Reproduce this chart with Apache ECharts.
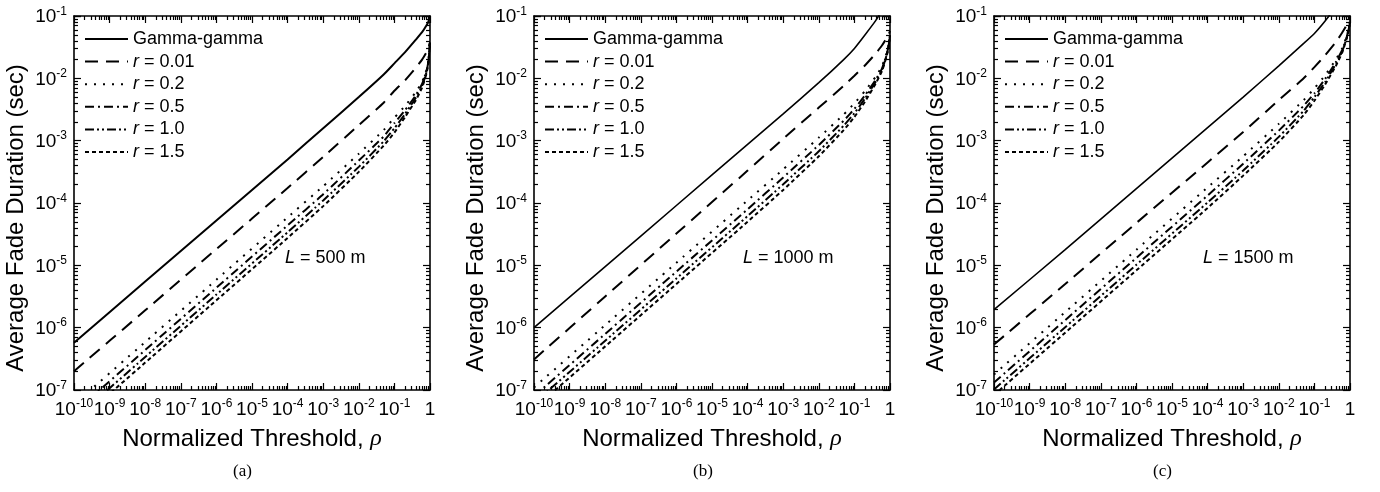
<!DOCTYPE html>
<html><head><meta charset="utf-8">
<script src="https://cdn.jsdelivr.net/npm/echarts@6/dist/echarts.min.js"></script>
<style>html,body{margin:0;padding:0;background:#fff}#c{width:1380px;height:492px}</style>
</head><body><div id="c"></div>
<script>
// ---- data ----
const rho = [1e-10, 1e-8, 1e-6, 1e-4, 1e-3, 1e-2, 0.05, 0.1, 0.2, 0.4, 0.6, 0.8, 0.9, 1];
const seriesNames = ['Gamma-gamma', 'r = 0.01', 'r = 0.2', 'r = 0.5', 'r = 1.0', 'r = 1.5'];
const panelCaptions = ['(a)', '(b)', '(c)'];
const linkLengths = ['500', '1000', '1500'];
const xTickExponents = [-10, -9, -8, -7, -6, -5, -4, -3, -2, -1, 0];
const yTickExponents = [-7, -6, -5, -4, -3, -2, -1];

// Panel (a) L = 500 m
const a_gg   = [5.75e-7, 5.5e-6, 5.25e-5, 5.0e-4, 1.58e-3, 5.0e-3, 1.15e-2, 1.74e-2, 2.63e-2, 4.17e-2, 5.5e-2, 7.08e-2, 8.13e-2, 0.1];
const a_r001 = [2.0e-7, 1.9e-6, 1.82e-5, 1.74e-4, 5.5e-4, 1.78e-3, 4.07e-3, 6.31e-3, 9.33e-3, 1.48e-2, 2.0e-2, 2.63e-2, 3.09e-2, 3.8e-2];
const a_r02  = [5.89e-8, 5.89e-7, 5.89e-6, 5.89e-5, 1.86e-4, 6.17e-4, 1.48e-3, 2.34e-3, 3.63e-3, 6.03e-3, 8.71e-3, 1.38e-2, 1.91e-2, 3.8e-2];
const a_r05  = [4.37e-8, 4.37e-7, 4.37e-6, 4.37e-5, 1.38e-4, 4.79e-4, 1.17e-3, 1.91e-3, 3.09e-3, 5.37e-3, 8.13e-3, 1.32e-2, 1.86e-2, 3.8e-2];
const a_r10  = [3.39e-8, 3.39e-7, 3.39e-6, 3.39e-5, 1.1e-4, 3.8e-4, 9.77e-4, 1.58e-3, 2.69e-3, 4.9e-3, 7.59e-3, 1.26e-2, 1.82e-2, 3.72e-2];
const a_r15  = [2.75e-8, 2.75e-7, 2.75e-6, 2.75e-5, 8.91e-5, 3.16e-4, 8.32e-4, 1.35e-3, 2.4e-3, 4.47e-3, 7.08e-3, 1.2e-2, 1.78e-2, 3.63e-2];
// Panel (b) L = 1000 m
const b_gg   = [1.0e-6, 9.55e-6, 9.12e-5, 8.71e-4, 2.69e-3, 8.51e-3, 2.0e-2, 3.02e-2, 5.01e-2, 8.51e-2, 0.126, 0.178, 0.209, 0.251];
const b_r001 = [3.09e-7, 3.16e-6, 3.24e-5, 3.31e-4, 1.07e-3, 3.39e-3, 7.59e-3, 1.1e-2, 1.62e-2, 2.51e-2, 3.39e-2, 4.37e-2, 4.9e-2, 5.75e-2];
const b_r02  = [1.1e-7, 1.1e-6, 1.1e-5, 1.1e-4, 3.47e-4, 1.12e-3, 2.63e-3, 3.98e-3, 6.31e-3, 1.07e-2, 1.58e-2, 2.51e-2, 3.31e-2, 5.01e-2];
const b_r05  = [7.94e-8, 7.94e-7, 7.94e-6, 7.94e-5, 2.57e-4, 8.51e-4, 2.09e-3, 3.24e-3, 5.37e-3, 9.55e-3, 1.45e-2, 2.4e-2, 3.16e-2, 4.9e-2];
const b_r10  = [6.17e-8, 6.17e-7, 6.17e-6, 6.17e-5, 2.0e-4, 6.76e-4, 1.74e-3, 2.75e-3, 4.79e-3, 8.91e-3, 1.38e-2, 2.34e-2, 3.09e-2, 4.9e-2];
const b_r15  = [5.01e-8, 5.01e-7, 5.01e-6, 5.01e-5, 1.62e-4, 5.62e-4, 1.48e-3, 2.4e-3, 4.27e-3, 8.32e-3, 1.32e-2, 2.24e-2, 3.02e-2, 4.79e-2];
// Panel (c) L = 1500 m
const c_gg   = [1.95e-6, 1.78e-5, 1.7e-4, 1.62e-3, 5.01e-3, 1.58e-2, 3.63e-2, 5.25e-2, 8.32e-2, 0.141, 0.2, 0.251, 0.282, 0.316];
const c_r001 = [5.37e-7, 5.01e-6, 4.79e-5, 4.47e-4, 1.38e-3, 4.47e-3, 1.0e-2, 1.51e-2, 2.34e-2, 3.8e-2, 5.37e-2, 7.08e-2, 8.13e-2, 9.55e-2];
const c_r02  = [1.78e-7, 1.78e-6, 1.78e-5, 1.78e-4, 5.62e-4, 1.86e-3, 4.47e-3, 6.92e-3, 1.12e-2, 2.0e-2, 3.02e-2, 4.68e-2, 6.03e-2, 8.32e-2];
const c_r05  = [1.32e-7, 1.32e-6, 1.32e-5, 1.32e-4, 4.27e-4, 1.45e-3, 3.63e-3, 5.75e-3, 9.77e-3, 1.82e-2, 2.82e-2, 4.47e-2, 5.89e-2, 8.13e-2];
const c_r10  = [1.02e-7, 1.02e-6, 1.02e-5, 1.02e-4, 3.31e-4, 1.15e-3, 3.02e-3, 5.01e-3, 8.71e-3, 1.7e-2, 2.69e-2, 4.37e-2, 5.75e-2, 7.94e-2];
const c_r15  = [8.32e-8, 8.32e-7, 8.32e-6, 8.32e-5, 2.75e-4, 9.55e-4, 2.57e-3, 4.37e-3, 7.94e-3, 1.58e-2, 2.57e-2, 4.27e-2, 5.62e-2, 7.76e-2];

const panels = [
  [a_gg, a_r001, a_r02, a_r05, a_r10, a_r15],
  [b_gg, b_r001, b_r02, b_r05, b_r10, b_r15],
  [c_gg, c_r001, c_r02, c_r05, c_r10, c_r15]
];

// ---- styling ----
const FONT = '"Liberation Sans", Arial, Helvetica, sans-serif';
const SERIF = '"Liberation Serif", "Times New Roman", serif';
const lineTypes = ['solid', [13, 8], [2, 7], [9, 4, 2, 4], [9, 3, 2, 3, 2, 3], [4, 3]];
const lineWidths = [[2, 2, 2, 2, 2, 2], [1.6, 2, 2, 2, 2, 2], [1.6, 2, 2, 2, 2, 2]];
const gridLefts = [74, 534, 994];
const GRID_TOP = 16, GRID_W = 356, GRID_H = 374;

function supLabel(v) {
  const e = Math.round(Math.log10(v));
  return e === 0 ? '{b|1}' : '{b|10}{s|' + e + '}';
}
const supRich = {
  b: { fontSize: 19, fontFamily: FONT, color: '#000', lineHeight: 21, verticalAlign: 'bottom' },
  s: { fontSize: 12, fontFamily: FONT, color: '#000', lineHeight: 12, verticalAlign: 'top', padding: [0, 0, 12, 0] }
};
const axisLineStyle = { color: '#000', width: 1.6 };
const tickStyle = { color: '#000', width: 1.2 };

const grid = [], xAxis = [], yAxis = [], series = [], legend = [], graphic = [];
for (let p = 0; p < 3; p++) {
  grid.push({ left: gridLefts[p], top: GRID_TOP, width: GRID_W, height: GRID_H });
  const baseX = {
    type: 'log', logBase: 10, gridIndex: p,
    min: Math.pow(10, xTickExponents[0]), max: Math.pow(10, xTickExponents[xTickExponents.length - 1]),
    interval: 1, splitNumber: xTickExponents.length - 1,
    axisLine: { show: true, onZero: false, lineStyle: axisLineStyle },
    axisTick: { show: true, inside: true, length: 7, lineStyle: tickStyle },
    minorTick: { show: true, splitNumber: 9, length: 4, lineStyle: tickStyle },
    splitLine: { show: false }, minorSplitLine: { show: false }
  };
  xAxis.push(Object.assign({}, baseX, {
    position: 'bottom',
    axisLabel: { show: true, margin: 8, formatter: supLabel, rich: supRich, hideOverlap: false, showMinLabel: true, showMaxLabel: true },
    name: 'Normalized Threshold, {i|ρ}', nameLocation: 'middle', nameGap: 33,
    nameTextStyle: { fontSize: 24, fontFamily: FONT, color: '#000',
      rich: { i: { fontSize: 24, fontFamily: SERIF, fontStyle: 'italic', color: '#000' } } }
  }));
  xAxis.push(Object.assign({}, baseX, { position: 'top', axisLabel: { show: false } }));
  const baseY = {
    type: 'log', logBase: 10, gridIndex: p,
    min: Math.pow(10, yTickExponents[0]), max: Math.pow(10, yTickExponents[yTickExponents.length - 1]),
    interval: 1, splitNumber: yTickExponents.length - 1,
    axisLine: { show: true, onZero: false, lineStyle: axisLineStyle },
    axisTick: { show: true, inside: true, length: 7, lineStyle: tickStyle },
    minorTick: { show: true, splitNumber: 9, length: 4, lineStyle: tickStyle },
    splitLine: { show: false }, minorSplitLine: { show: false }
  };
  yAxis.push(Object.assign({}, baseY, {
    position: 'left',
    axisLabel: { show: true, margin: 7, formatter: supLabel, rich: supRich, hideOverlap: false, showMinLabel: true, showMaxLabel: true },
    name: 'Average Fade Duration (sec)', nameLocation: 'middle', nameGap: 46, nameRotate: 90,
    nameTextStyle: { fontSize: 24, fontFamily: FONT, color: '#000', padding: [0, 30, 0, 0] }
  }));
  yAxis.push(Object.assign({}, baseY, { position: 'right', axisLabel: { show: false } }));

  const xi = p * 2, yi = p * 2;
  panels[p].forEach((arr, s) => {
    series.push({
      name: seriesNames[s], type: 'line', xAxisIndex: xi, yAxisIndex: yi,
      data: rho.map((x, k) => [x, arr[k]]),
      symbol: 'none', showSymbol: false, smooth: 0.15, clip: true,
      lineStyle: { color: '#000', width: lineWidths[p][s], type: lineTypes[s] },
      itemStyle: { color: 'rgba(0,0,0,0)', opacity: 0 }, silent: true, animation: false
    });
  });

  legend.push({
    show: true, orient: 'vertical', left: gridLefts[p] + 10, top: 30, padding: 0,
    itemWidth: 43, itemHeight: 12, itemGap: 4.6, selectedMode: false,
    itemStyle: { color: 'rgba(0,0,0,0)', borderColor: 'rgba(0,0,0,0)', borderWidth: 0, opacity: 0 },
    data: seriesNames,
    formatter: n => n.charAt(0) === 'r' ? '{i|r}' + n.slice(1) : n,
    textStyle: { fontSize: 18, fontFamily: FONT, color: '#000', lineHeight: 18,
      rich: { i: { fontSize: 18, fontFamily: FONT, fontStyle: 'italic', color: '#000', lineHeight: 18 } } }
  });

  graphic.push({
    type: 'text', left: gridLefts[p] + (p === 0 ? 211 : 209), top: 249, silent: true,
    style: { text: '{i|L} = ' + linkLengths[p] + ' m', fill: '#000', font: '18px ' + FONT,
      rich: { i: { fontStyle: 'italic', fontSize: 18, fontFamily: FONT, fill: '#000' } } }
  });
  graphic.push({
    type: 'text', left: gridLefts[p] + 159, top: 463, silent: true,
    style: { text: panelCaptions[p], fill: '#000', font: '17px ' + SERIF }
  });
}

const chart = echarts.init(document.getElementById('c'), null, { renderer: 'canvas' });
chart.setOption({
  backgroundColor: '#fff', animation: false,
  grid, xAxis, yAxis, series, legend, graphic
});
</script></body></html>
